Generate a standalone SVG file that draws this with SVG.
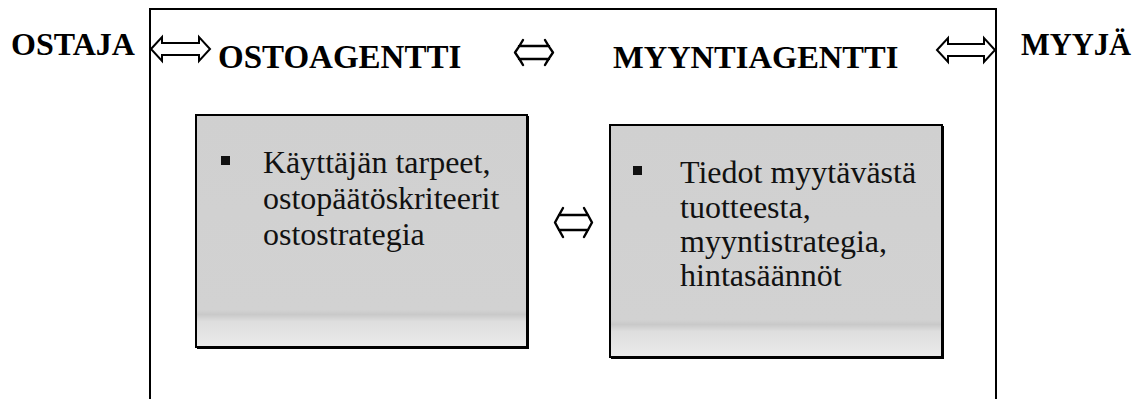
<svg xmlns="http://www.w3.org/2000/svg" width="1142" height="399" viewBox="0 0 1142 399">
  <style>
    .head { font-family: "Liberation Serif", "Times New Roman", serif; font-weight: bold; font-size: 32px; fill: #000; }
    .body { font-family: "Liberation Serif", "Times New Roman", serif; font-size: 32px; fill: #111; }
    .frame { fill: none; stroke: #000; stroke-width: 2; }
    .card { fill: url(#cardFill); stroke: #000; stroke-width: 2; }
    .shade { fill: none; stroke: #000; stroke-width: 2; }
    .dbl { fill: #fff; stroke: #000; stroke-width: 2; stroke-linejoin: miter; }
    .glyph { fill: none; stroke: #000; stroke-width: 2.4; stroke-linejoin: round; stroke-linecap: round; }
    .bullet { fill: #111; }
  </style>
  <defs>
    <linearGradient id="cardFill" x1="0" y1="0" x2="0" y2="1">
      <stop offset="0" stop-color="#d0d0d0"/>
      <stop offset="0.84" stop-color="#d2d2d2"/>
      <stop offset="0.86" stop-color="#c9c9c9"/>
      <stop offset="0.89" stop-color="#dedede"/>
      <stop offset="1" stop-color="#ebebeb"/>
    </linearGradient>
  </defs>

  <rect width="1142" height="399" fill="#fff"/>

  <!-- enclosing agent frame -->
  <g id="agent-frame">
    <path class="frame" d="M150,402 L150,9 L996,9 L996,402"/>
  </g>

  <g id="ostaja">
    <text class="head" x="11" y="55">OSTAJA</text>
  </g>
  <g id="ostoagentti">
    <text class="head" x="218" y="68" style="font-size:33px">OSTOAGENTTI</text>
  </g>
  <g id="myyntiagentti">
    <text class="head" x="613" y="68" style="font-size:32.5px">MYYNTIAGENTTI</text>
  </g>
  <g id="myyja">
    <text class="head" x="1021" y="55" style="font-size:30.5px">MYYJÄ</text>
  </g>

  <g id="buyer-card">
    <rect class="card" x="196" y="115" width="331" height="232"/>
    <path class="shade" d="M528,116 L528,348 L197,348"/>
    <rect class="bullet" x="221" y="156" width="9" height="9"/>
    <text class="body" x="263" y="173">Käyttäjän tarpeet,</text>
    <text class="body" x="263" y="209">ostopäätöskriteerit</text>
    <text class="body" x="263" y="245">ostostrategia</text>
  </g>

  <g id="seller-card">
    <rect class="card" x="610" y="125" width="332" height="232"/>
    <path class="shade" d="M943,126 L943,358 L611,358"/>
    <rect class="bullet" x="633" y="166" width="9" height="9"/>
    <text class="body" x="680" y="183">Tiedot myytävästä</text>
    <text class="body" x="680" y="218">tuotteesta,</text>
    <text class="body" x="680" y="252">myyntistrategia,</text>
    <text class="body" x="680" y="286">hintasäännöt</text>
  </g>

  <!-- two-way connectors -->
  <g id="connectors">
    <path class="dbl" d="M151,49 L162,37 L162,43 L199,43 L199,37 L210,49 L199,61 L199,55 L162,55 L162,61 Z"/>
    <path class="dbl" d="M937,50 L948,38 L948,44 L984,44 L984,38 L995,50 L984,62 L984,56 L948,56 L948,62 Z"/>
    <path class="glyph" d="M523,40 Q519,47 515,52.5 Q519,58 523,65 M519,46 L549,46 M519,59 L549,59 M545,40 Q549,47 553,52.5 Q549,58 545,65"/>
    <path class="glyph" d="M563,208 Q559,215 555,222.5 Q559,230 563,237 M559,215 L588,215 M559,230 L588,230 M584,208 Q588,215 592,222.5 Q588,230 584,237"/>
  </g>
</svg>
